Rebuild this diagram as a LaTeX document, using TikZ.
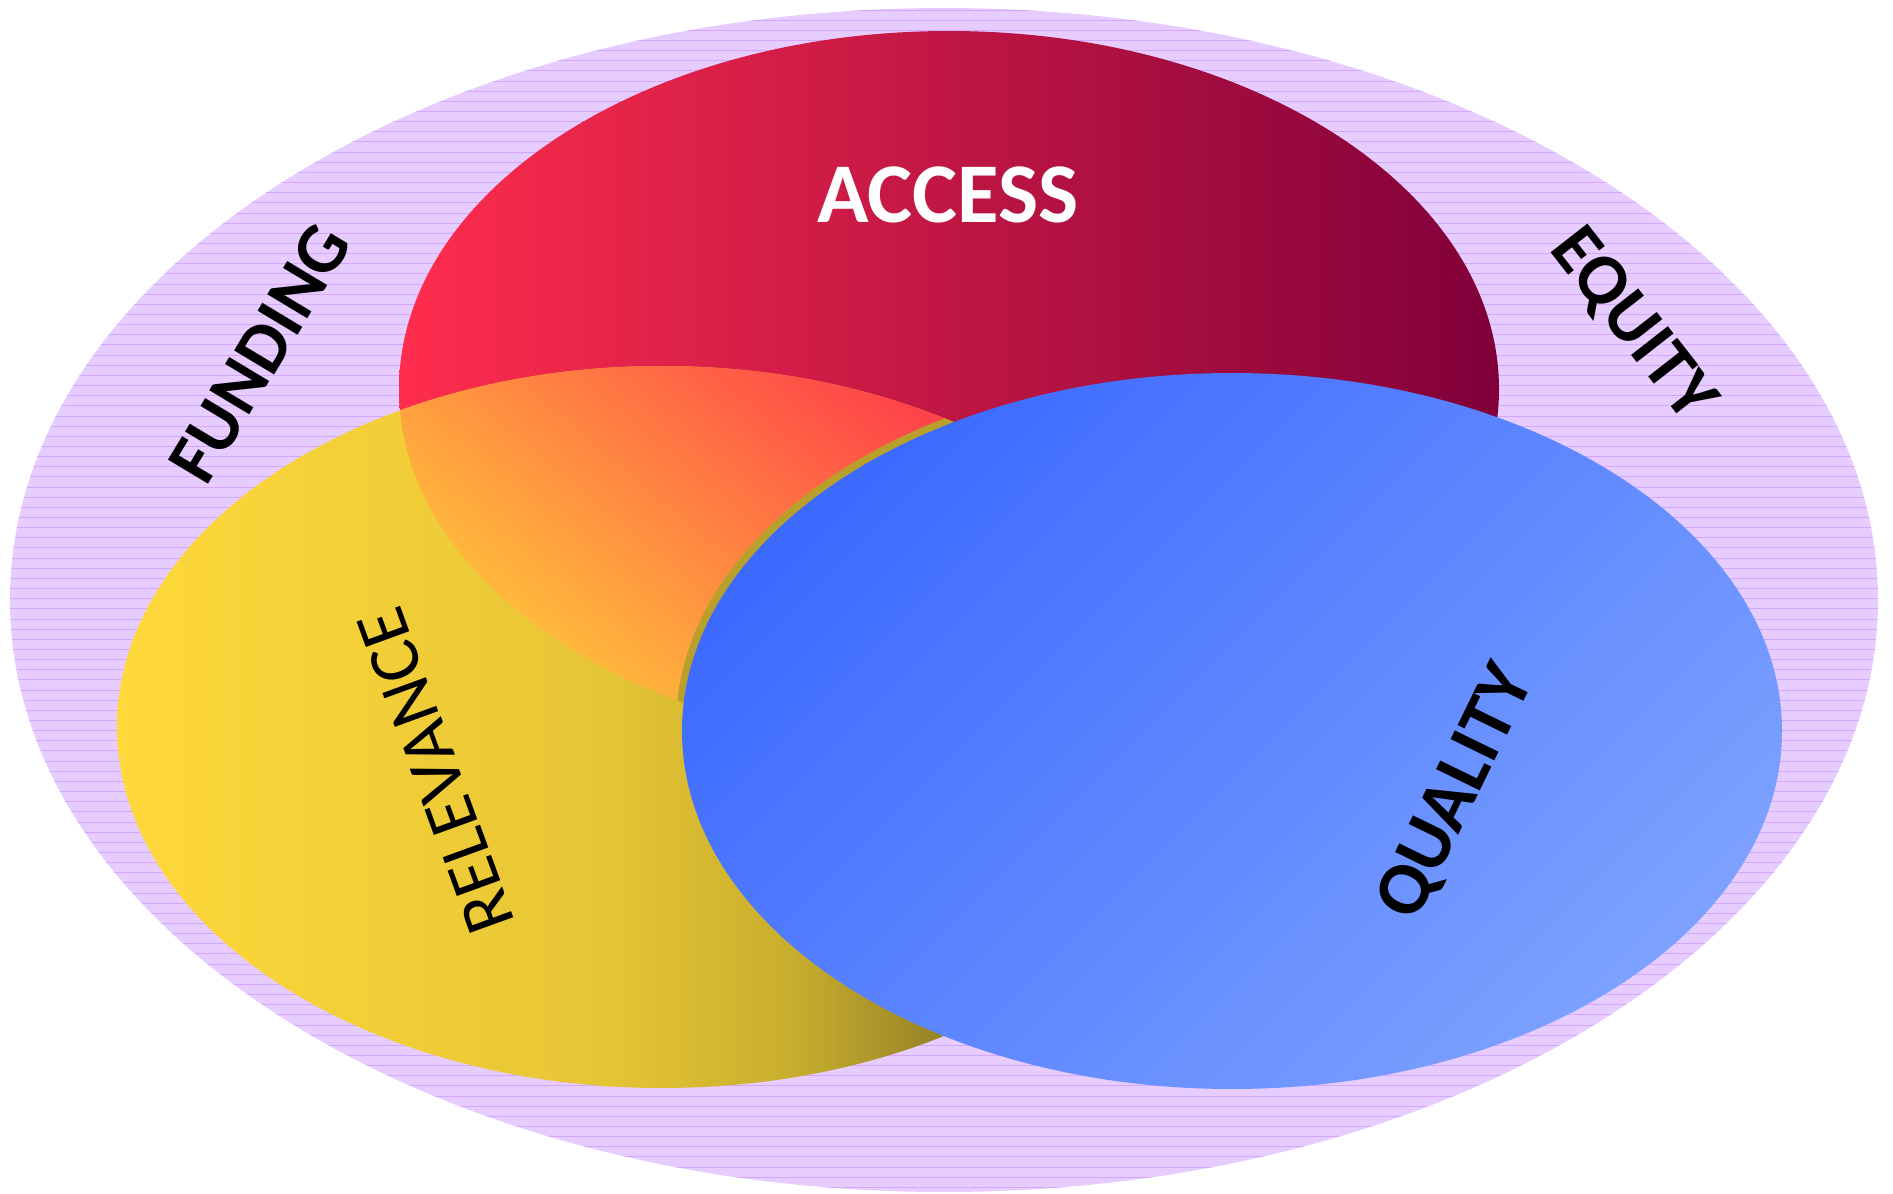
\documentclass[tikz,border=0pt]{standalone}
\usepackage{fontspec}
\setmainfont{Carlito}
\definecolor{outerfill}{HTML}{E7CCFF}
\definecolor{outerline}{HTML}{D3A6FF}
\definecolor{redL}{HTML}{FF2D4D}
\definecolor{redR}{HTML}{80003A}
\definecolor{yelA}{HTML}{FFD93B}
\definecolor{yelB}{HTML}{E6C535}
\definecolor{yelC}{HTML}{C8AE2E}
\definecolor{yelD}{HTML}{8E7B25}
\definecolor{yelE}{HTML}{6E5E1A}
\definecolor{orA}{HTML}{FFCB3A}
\definecolor{orB}{HTML}{FF4449}
\definecolor{oliveband}{HTML}{B8A02A}
\definecolor{bluA}{HTML}{3C6AFF}
\definecolor{bluB}{HTML}{7CA1FF}
\pgfdeclarehorizontalshading{yelshade}{100bp}{
  color(0bp)=(yelA); color(25bp)=(yelA); color(47.5bp)=(yelB); color(56bp)=(yelC); color(64bp)=(yelD); color(75bp)=(yelE); color(100bp)=(yelE)}
\tikzset{
  lbl/.style={font=\bfseries\fontsize{72}{72}\selectfont, text=black, inner sep=0pt},
  lblreg/.style={font=\fontsize{72}{72}\selectfont, text=black, inner sep=0pt},
}
\begin{document}
\begin{tikzpicture}[x=1pt,y=-1pt]
\useasboundingbox (0,0) rectangle (1893,1194);
% outer lavender ellipse with horizontal lines
\fill[outerfill] (944,600) ellipse [x radius=934, y radius=592];
\begin{scope}
  \clip (944,600) ellipse [x radius=934, y radius=592];
  \foreach \k in {0,...,117} {
    \draw[outerline, line width=1pt] (0,{10+\k*10.15}) -- (1893,{10+\k*10.15});
  }
\end{scope}
% red ellipse (ACCESS)
\shade[left color=redL, right color=redR] (949,389) ellipse [x radius=550, y radius=358];
% yellow ellipse (RELEVANCE)
\shade[shading=yelshade] (662,727) ellipse [x radius=545, y radius=361];
% orange intersection
\begin{scope}
  \clip (949,389) ellipse [x radius=550, y radius=358];
  \clip (662,727) ellipse [x radius=545, y radius=361];
  \shade[top color=orB, bottom color=orA, shading angle=-40] (398,366) rectangle (1010,720);
  \fill[oliveband] (1226,726) ellipse [x radius=550, y radius=358];
\end{scope}
% blue ellipse (QUALITY)
\shade[top color=bluA, bottom color=bluB, shading angle=45] (1232,731) ellipse [x radius=550, y radius=358];
% labels
\node[lbl, text=white, font=\bfseries\fontsize{85}{85}\selectfont] (access) at (948,195) {ACCESS};
\node[lbl, rotate=59] (funding) at (260,353) {FUNDING};
\node[lbl, rotate=-52] (equity) at (1632,325) {EQUITY};
\node[lblreg, rotate=110] (relevance) at (436,771) {RELEVANCE};
\node[lbl, rotate=64, font=\bfseries\fontsize{75}{75}\selectfont] (quality) at (1457,793) {QUALITY};
\end{tikzpicture}
\end{document}
